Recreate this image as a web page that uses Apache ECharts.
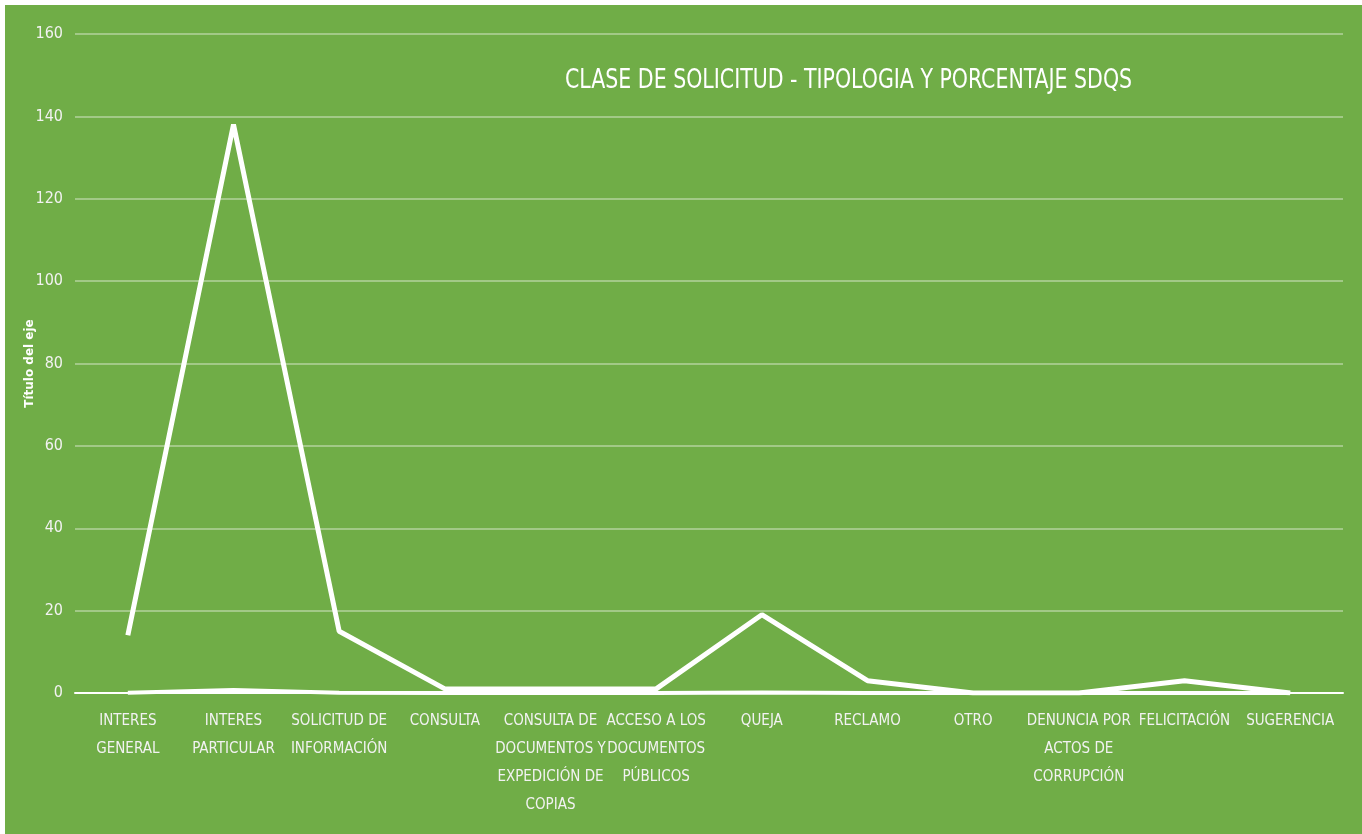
<!DOCTYPE html>
<html>
<head>
<meta charset="utf-8" />
<title>Clase de solicitud</title>
<script src="https://cdn.jsdelivr.net/npm/echarts@6/dist/echarts.min.js"></script>
<style>
  html, body { margin: 0; padding: 0; background: #ffffff; }
  #container { position: absolute; left: 5px; top: 5px; width: 1357px; height: 829px; background: #70ad47; }
</style>
</head>
<body>
<div id="container"></div>
<script type="text/javascript">
  // categorias del eje x
  var categorias = [
    'INTERES\nGENERAL', 'INTERES\nPARTICULAR', 'SOLICITUD DE\nINFORMACIÓN', 'CONSULTA',
    'CONSULTA DE\nDOCUMENTOS Y\nEXPEDICIÓN DE\nCOPIAS', 'ACCESO A LOS\nDOCUMENTOS\nPÚBLICOS',
    'QUEJA', 'RECLAMO', 'OTRO', 'DENUNCIA POR\nACTOS DE\nCORRUPCIÓN', 'FELICITACIÓN', 'SUGERENCIA'
  ];
  // cantidad de solicitudes
  var cantidad = [14, 138, 15, 1, 1, 1, 19, 3, 0, 0, 3, 0];
  // porcentaje (fraccion)
  var porcentaje = [0.07, 0.71, 0.08, 0.01, 0.01, 0.01, 0.1, 0.02, 0, 0, 0.02, 0];

  var fuente = '"DejaVu Sans Condensed", "Liberation Sans Narrow", sans-serif';

  var dom = document.getElementById('container');
  var myChart = echarts.init(dom, null, { renderer: 'canvas' });

  var option = {
    backgroundColor: '#70ad47',
    animation: false,
    // titulo como texto grafico para poder estrecharlo un poco
    graphic: [{
      type: 'text',
      left: 560,
      top: 62,
      scaleX: 0.845,
      style: {
        text: 'CLASE DE SOLICITUD - TIPOLOGIA Y PORCENTAJE SDQS',
        fill: '#ffffff',
        font: 'normal 27px ' + fuente
      }
    }],
    grid: { left: 70, right: 19, top: 29, bottom: 141, containLabel: false },
    xAxis: {
      type: 'category',
      data: categorias,
      boundaryGap: true,
      axisLine: { show: true, lineStyle: { color: '#ffffff', width: 2 } },
      axisTick: { show: false },
      axisLabel: {
        color: '#f2f2f2',
        fontFamily: fuente,
        fontSize: 15,
        lineHeight: 28,
        margin: 14,
        interval: 0
      }
    },
    yAxis: {
      type: 'value',
      min: 0,
      max: 160,
      interval: 20,
      name: 'Título del eje',
      nameLocation: 'middle',
      nameGap: 39,
      nameMoveOverlap: false,
      nameTextStyle: { color: '#ffffff', fontFamily: '"DejaVu Sans", sans-serif', fontSize: 12, fontWeight: 'bold' },
      axisLine: { show: false },
      axisTick: { show: false },
      axisLabel: { color: '#f2f2f2', fontFamily: fuente, fontSize: 16, margin: 12 },
      splitLine: { lineStyle: { color: 'rgba(255,255,255,0.35)', width: 2 } }
    },
    series: [
      {
        name: 'Cantidad',
        type: 'line',
        data: cantidad,
        symbol: 'none',
        lineStyle: { color: '#ffffff', width: 5 },
        z: 3
      },
      {
        name: 'Porcentaje',
        type: 'line',
        data: porcentaje,
        symbol: 'none',
        lineStyle: { color: '#ffffff', width: 4 },
        z: 4
      }
    ]
  };

  myChart.setOption(option);
  window.addEventListener('resize', myChart.resize);
</script>
</body>
</html>
